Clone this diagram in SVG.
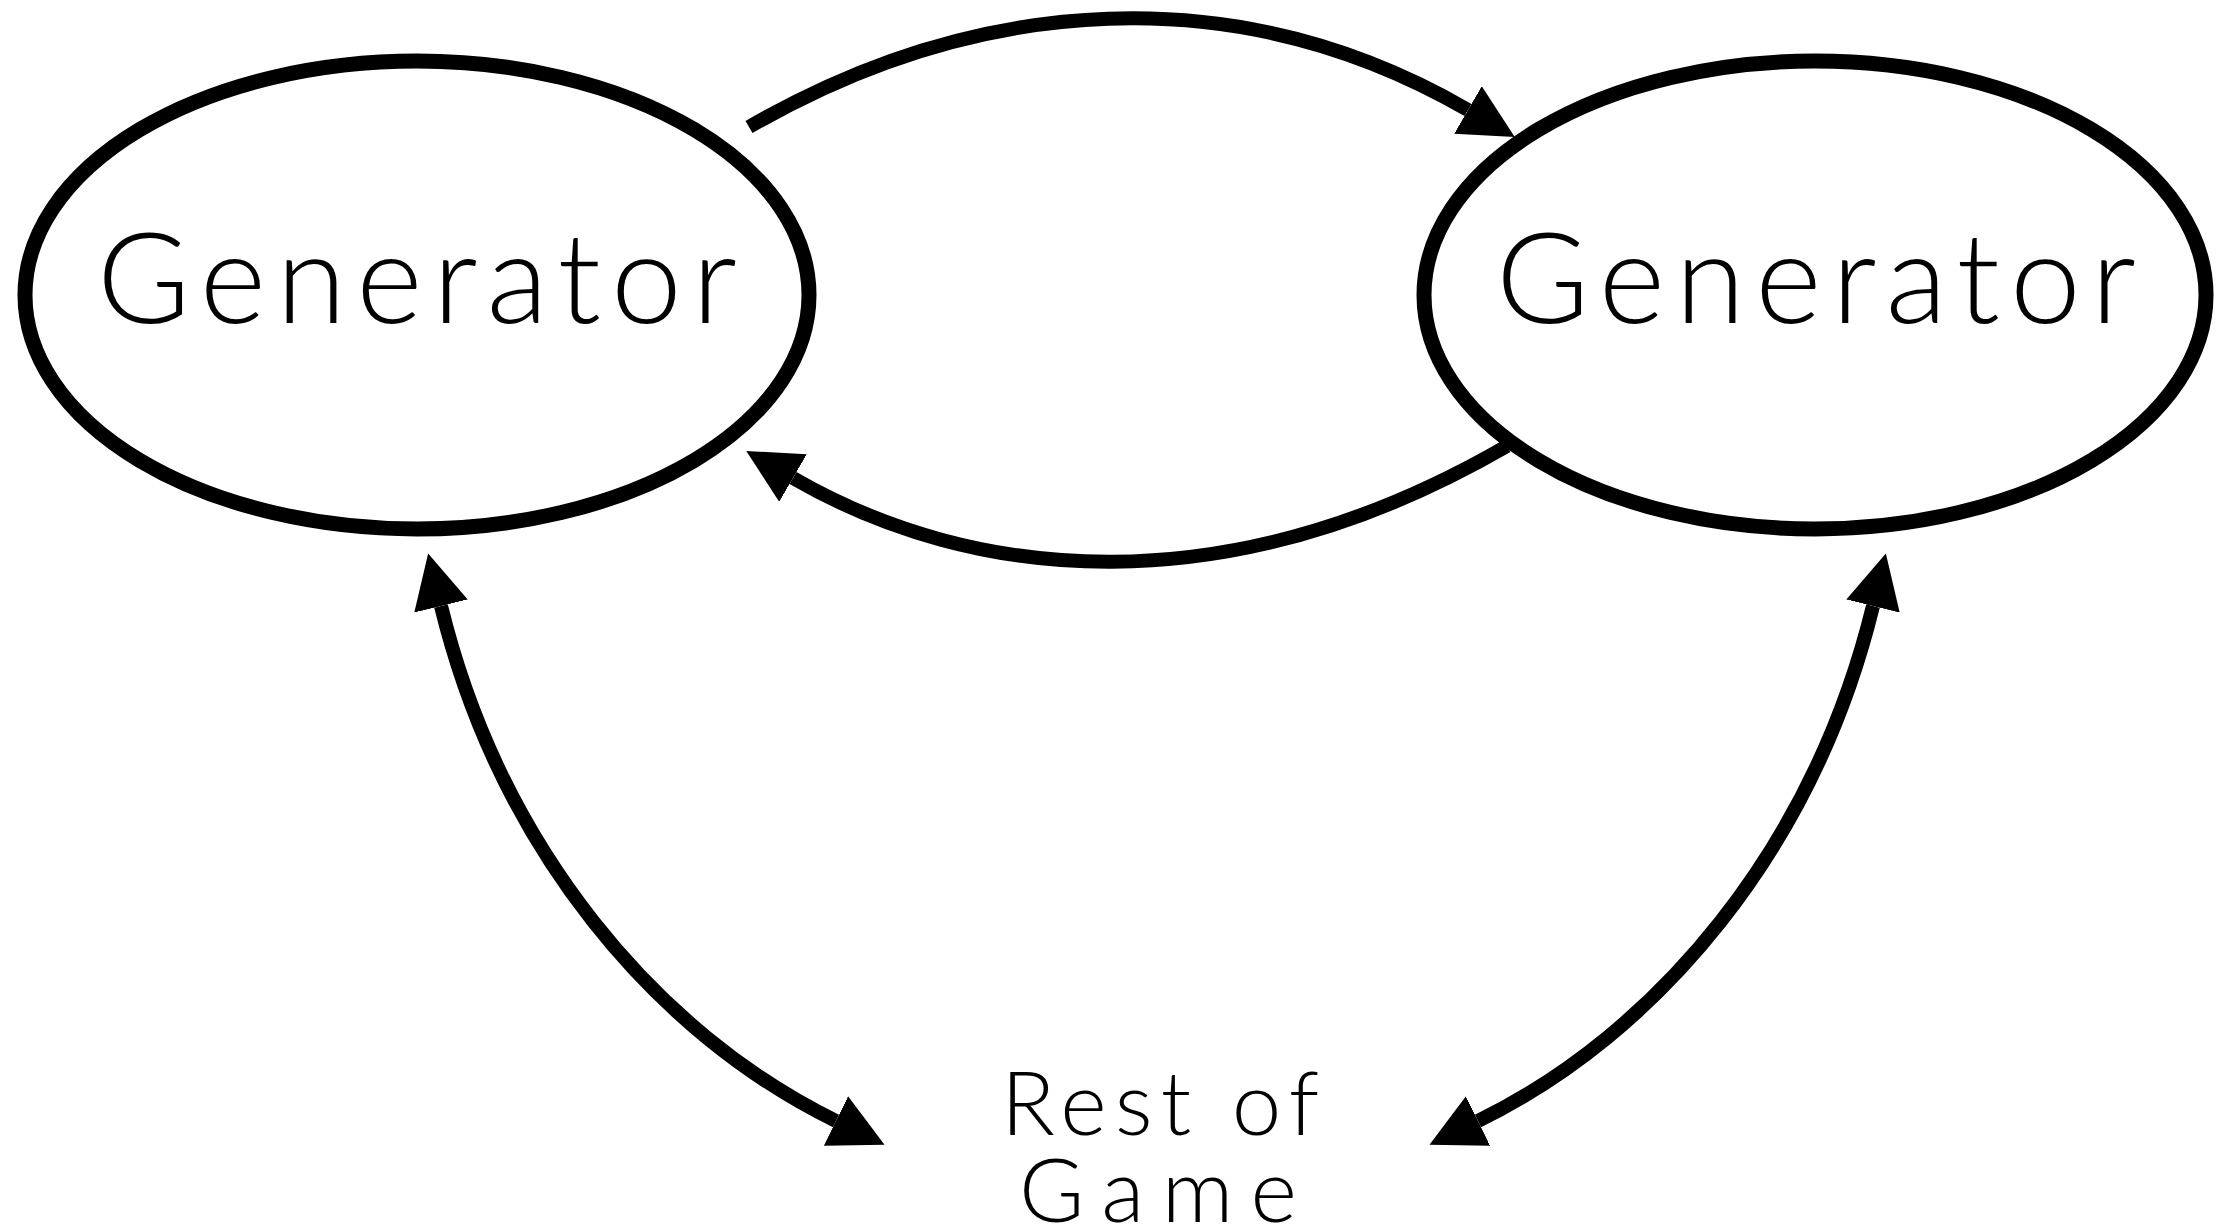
<svg xmlns="http://www.w3.org/2000/svg" width="2216" height="1230" viewBox="0 0 2216 1230">
  <style>
    .node { fill: #ffffff; stroke: #000000; stroke-width: 15; }
    .label { font-family: "Lato", "Liberation Sans", sans-serif; font-weight: 300; fill: #000000; text-anchor: middle; }
    .big { font-size: 127px; }
    .small { font-size: 89px; }
    .edge { fill: none; stroke: #000000; stroke-width: 14; stroke-linecap: butt; }
  </style>
  <defs>
    <marker id="head" viewBox="0 0 54 55" refX="0" refY="27.5" markerWidth="54" markerHeight="55" markerUnits="userSpaceOnUse" orient="auto-start-reverse">
      <path d="M0,0 L54,27.5 L0,55 Z" fill="#000000"/>
    </marker>
  </defs>
  <rect x="0" y="0" width="2216" height="1230" fill="#ffffff"/>

  <g id="generator-left">
    <ellipse class="node" cx="417" cy="295" rx="392" ry="234"/>
    <text class="label big" x="417" y="323" textLength="640" lengthAdjust="spacing">Generator</text>
  </g>

  <g id="generator-right">
    <ellipse class="node" cx="1815" cy="295" rx="391" ry="234"/>
    <text class="label big" x="1816" y="323" textLength="640" lengthAdjust="spacing">Generator</text>
  </g>

  <g id="rest-of-game">
    <text class="label small" x="1160" y="1135" textLength="318" lengthAdjust="spacing">Rest of</text>
    <text class="label small" x="1158" y="1222" textLength="278" lengthAdjust="spacing">Game</text>
  </g>

  <g id="connectors">
    <!-- left generator to right generator, over the top -->
    <path class="edge" d="M749,127 C979,-6 1238,-23 1468,110" marker-end="url(#head)"/>
    <!-- right generator back to left generator, underneath -->
    <path class="edge" d="M1507,446 C1227,608 973,582 793,478" marker-end="url(#head)"/>
    <!-- left generator and rest of game, both ways -->
    <path class="edge" d="M441,606 C500.5,848.75 656,1033 836,1121" marker-start="url(#head)" marker-end="url(#head)"/>
    <!-- right generator and rest of game, both ways -->
    <path class="edge" d="M1873,606 C1813.5,848.75 1658,1033 1478,1121" marker-start="url(#head)" marker-end="url(#head)"/>
  </g>
</svg>
